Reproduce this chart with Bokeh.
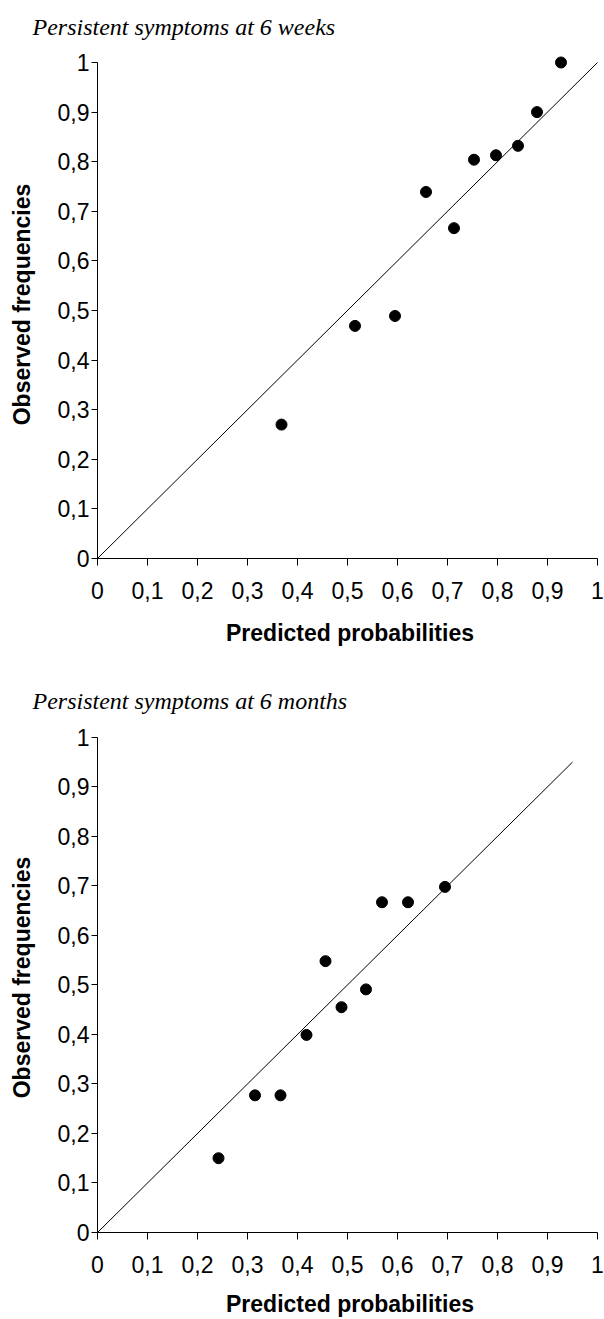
from bokeh.plotting import figure
from bokeh.layouts import column
from bokeh.models import FixedTicker, CustomJSTickFormatter, Range1d
from bokeh.embed import file_html
from bokeh.resources import INLINE

# ---------------- data ----------------
pred_6w = [0.368, 0.515, 0.595, 0.657, 0.713, 0.753, 0.797, 0.841, 0.879, 0.927]
obs_6w = [0.270, 0.469, 0.489, 0.739, 0.666, 0.804, 0.813, 0.832, 0.900, 1.000]
ref_6w = [0.0, 1.0]

pred_6m = [0.242, 0.315, 0.366, 0.418, 0.456, 0.488, 0.537, 0.569, 0.621, 0.695]
obs_6m = [0.150, 0.277, 0.277, 0.399, 0.548, 0.455, 0.491, 0.667, 0.667, 0.698]
ref_6m = [0.0, 0.95]

tick_values = [0.0, 0.1, 0.2, 0.3, 0.4, 0.5, 0.6, 0.7, 0.8, 0.9, 1.0]
tick_labels = ["0", "0,1", "0,2", "0,3", "0,4", "0,5", "0,6", "0,7", "0,8", "0,9", "1"]

title_6w = "Persistent symptoms at 6 weeks"
title_6m = "Persistent symptoms at 6 months"
x_title = "Predicted probabilities"
y_title = "Observed frequencies"

SANS = "Liberation Sans"
SERIF = "Liberation Serif"


def make_panel(xs, ys, ref, title, border_top, border_bottom, frame_h, y_end,
               title_standoff, xlabel_standoff):
    p = figure(frame_width=505, frame_height=frame_h,
               min_border_left=97, min_border_right=2,
               min_border_top=border_top, min_border_bottom=border_bottom,
               x_range=Range1d(0, 1.01), y_range=Range1d(0, y_end),
               title=title, output_backend="svg", toolbar_location=None)
    p.title.text_font = SERIF
    p.title.text_font_style = "italic"
    p.title.text_font_size = "24px"
    p.title.text_color = "black"
    p.title.align = "left"
    p.title.offset = -65
    p.title.standoff = title_standoff
    p.grid.visible = False
    p.outline_line_color = None
    p.background_fill_color = "white"
    p.border_fill_color = "white"

    fmt = CustomJSTickFormatter(args=dict(labels=tick_labels),
                                code="return labels[Math.round(tick*10)];")
    for ax in (p.xaxis[0], p.yaxis[0]):
        ax.ticker = FixedTicker(ticks=tick_values)
        ax.formatter = fmt
        ax.bounds = (0, 1)
        ax.axis_line_color = "black"
        ax.axis_line_width = 1
        ax.major_tick_line_color = "black"
        ax.minor_tick_line_color = None
        ax.major_tick_in = 0
        ax.major_label_text_font = SANS
        ax.major_label_text_font_size = "23px"
        ax.major_label_text_color = "black"
        ax.axis_label_text_font = SANS
        ax.axis_label_text_font_style = "bold"
        ax.axis_label_text_font_size = "23px"
        ax.axis_label_text_color = "black"
    p.xaxis[0].major_tick_out = 7
    p.xaxis[0].major_label_standoff = 16
    p.xaxis[0].axis_label = x_title
    p.xaxis[0].axis_label_standoff = xlabel_standoff
    p.yaxis[0].major_tick_out = 6
    p.yaxis[0].major_label_standoff = 2
    p.yaxis[0].axis_label = y_title
    p.yaxis[0].axis_label_standoff = 20

    # identity line and points
    p.line(ref, ref, line_color="black", line_width=1)
    p.scatter(xs, ys, size=11, fill_color="black", line_color="black")
    return p


p1 = make_panel(pred_6w, obs_6w, ref_6w, title_6w,
                border_top=50, border_bottom=110, frame_h=508, y_end=1.0242,
                title_standoff=22, xlabel_standoff=18)
p2 = make_panel(pred_6m, obs_6m, ref_6m, title_6m,
                border_top=54, border_bottom=87, frame_h=510, y_end=1.03,
                title_standoff=17, xlabel_standoff=15)

layout = column(p1, p2, spacing=0)
open("out.html", "w").write(file_html(layout, INLINE))
